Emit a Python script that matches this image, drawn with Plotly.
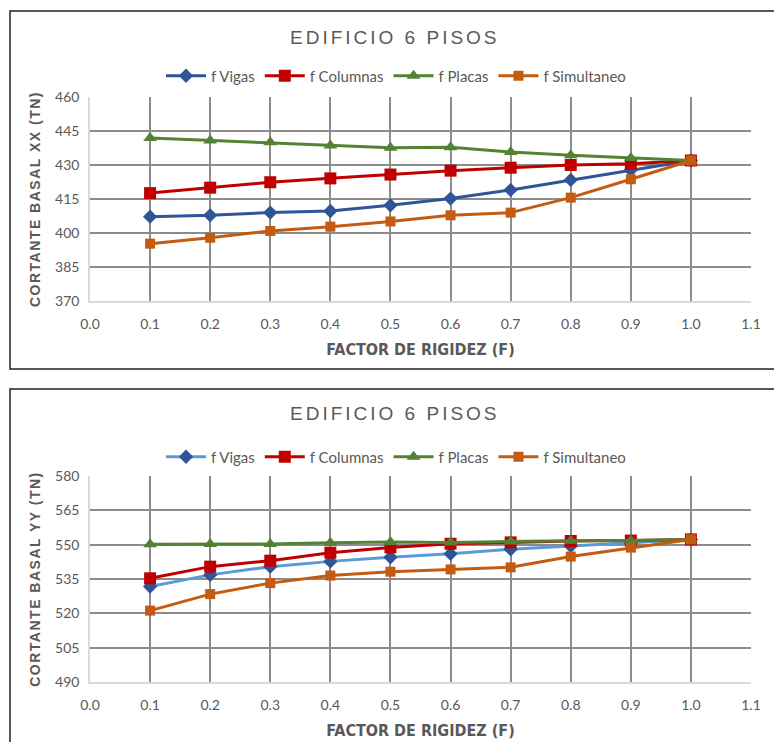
import plotly.graph_objects as go

# Factor de rigidez aplicado
factor = [0.1, 0.2, 0.3, 0.4, 0.5, 0.6, 0.7, 0.8, 0.9, 1.0]

# Cortante basal en dirección XX (tn)
vigas_xx = [407.2, 407.8, 409.0, 409.7, 412.2, 415.2, 419.0, 423.4, 427.8, 432.0]
columnas_xx = [417.6, 420.0, 422.4, 424.1, 425.8, 427.5, 428.8, 430.0, 430.6, 432.0]
placas_xx = [441.9, 440.8, 440.0, 438.6, 437.6, 437.8, 435.7, 434.3, 433.1, 432.0]
simultaneo_xx = [395.3, 397.9, 400.9, 402.8, 405.1, 407.8, 409.0, 415.6, 423.7, 432.0]

# Cortante basal en dirección YY (tn)
vigas_yy = [531.7, 536.8, 540.4, 542.7, 544.5, 546.0, 548.0, 549.4, 550.6, 552.3]
columnas_yy = [535.3, 540.4, 543.0, 546.5, 548.8, 550.4, 551.0, 551.6, 551.8, 552.3]
placas_yy = [550.2, 550.3, 550.3, 550.8, 551.2, 551.0, 551.4, 551.7, 551.8, 552.3]
simultaneo_yy = [521.2, 528.4, 533.2, 536.5, 538.2, 539.2, 540.1, 544.8, 548.7, 552.3]

series_names = ["f Vigas", "f Columnas", "f Placas", "f Simultaneo"]
chart_title = "EDIFICIO 6 PISOS"
x_title = "FACTOR DE RIGIDEZ (F)"
y_title_xx = "CORTANTE BASAL XX (TN)"
y_title_yy = "CORTANTE BASAL YY (TN)"

W, H = 774, 742
GRAY_TXT = "#595959"
GRID = "#8c8c8c"
AXIS = "#d9d9d9"
TICK_FONT = dict(family="Lato, Carlito, Liberation Sans Narrow, sans-serif", size=14, color=GRAY_TXT)


def px_x(p):
    return p / W


def px_y(p):
    return 1 - p / H


styles = [
    dict(line="#2f5597", marker="#2f5597", symbol="diamond", size=11),
    dict(line="#c00000", marker="#c00000", symbol="square", size=12),
    dict(line="#548235", marker="#548235", symbol="triangle-up", size=12),
    dict(line="#c55a11", marker="#c55a11", symbol="square", size=10),
]

fig = go.Figure()


def add_block(values, xa, ya, legend, vigas_line):
    for i, (name, vals, st) in enumerate(zip(series_names, values, styles)):
        line_color = vigas_line if i == 0 else st["line"]
        fig.add_trace(go.Scatter(
            x=factor, y=vals, name=name, mode="lines+markers",
            xaxis=xa, yaxis=ya, legend=legend,
            line=dict(color=line_color, width=3),
            marker=dict(color=st["marker"], symbol=st["symbol"], size=st["size"],
                        line=dict(width=0)),
            hoverinfo="x+y+name",
        ))


add_block([vigas_xx, columnas_xx, placas_xx, simultaneo_xx], "x", "y", "legend", "#2f5597")
add_block([vigas_yy, columnas_yy, placas_yy, simultaneo_yy], "x2", "y2", "legend2", "#5b9bd5")

x_dom = [px_x(90), px_x(751)]
xcommon = dict(
    range=[0, 1.1], dtick=0.1, tick0=0, tickformat=".1f",
    showgrid=True, gridcolor=GRID, gridwidth=1.5,
    showline=True, linecolor=AXIS, linewidth=1.5,
    zeroline=False, ticks="", tickfont=TICK_FONT, ticklabelstandoff=9,
    automargin=False,
    title=dict(text=x_title, standoff=13,
               font=dict(family="Liberation Sans Narrow, DejaVu Sans Condensed, sans-serif",
                         size=16, color=GRAY_TXT, weight="bold")),
    domain=x_dom, fixedrange=True,
)
ycommon = dict(
    dtick=15, showgrid=True, gridcolor=GRID, gridwidth=1.5,
    showline=True, linecolor=AXIS, linewidth=1.5,
    zeroline=False, ticks="", tickfont=TICK_FONT, ticklabelstandoff=6,
    automargin=False, fixedrange=True,
)
ytitle_font = dict(family="Liberation Sans, Arial, sans-serif", size=14,
                   color=GRAY_TXT, weight="bold")


def spaced(txt, px):
    return '<span style="letter-spacing:%spx">%s</span>' % (px, txt)


legend_common = dict(
    orientation="h", x=px_x(396), xanchor="center", yanchor="middle",
    bgcolor="rgba(0,0,0,0)",
    font=dict(family="Lato, Carlito, sans-serif", size=15, color=GRAY_TXT),
    itemwidth=40, tracegroupgap=0,
)

fig.update_layout(
    width=W, height=H,
    margin=dict(l=0, r=0, t=0, b=0),
    paper_bgcolor="white", plot_bgcolor="white",
    xaxis=dict(xcommon, anchor="y"),
    yaxis=dict(ycommon, range=[370, 460], tick0=370, anchor="x",
               domain=[px_y(301), px_y(97)],
               title=dict(text=spaced(y_title_xx, 1.5), font=ytitle_font, standoff=11)),
    xaxis2=dict(xcommon, anchor="y2"),
    yaxis2=dict(ycommon, range=[490, 580], tick0=490, anchor="x2",
                domain=[px_y(682), px_y(476)],
                title=dict(text=spaced(y_title_yy, 1.5), font=ytitle_font, standoff=11)),
    legend=dict(legend_common, y=px_y(76)),
    legend2=dict(legend_common, y=px_y(457)),
    showlegend=True,
)

# Chart titles
for yc in (37, 413):
    fig.add_annotation(
        x=px_x(395), y=px_y(yc), xref="paper", yref="paper",
        text=spaced(chart_title, 3),
        showarrow=False, xanchor="center", yanchor="middle",
        font=dict(family="Liberation Sans, Arial, sans-serif", size=19, color=GRAY_TXT),
    )

# Frames around each chart
fig.add_shape(type="rect", xref="paper", yref="paper",
              x0=px_x(10), x1=1.02, y0=px_y(369), y1=px_y(11),
              line=dict(color="#222222", width=1.5), fillcolor="rgba(0,0,0,0)", layer="above")
fig.add_shape(type="rect", xref="paper", yref="paper",
              x0=px_x(10), x1=1.02, y0=-0.02, y1=px_y(389),
              line=dict(color="#222222", width=1.5), fillcolor="rgba(0,0,0,0)", layer="above")

fig.write_html("out.html")
